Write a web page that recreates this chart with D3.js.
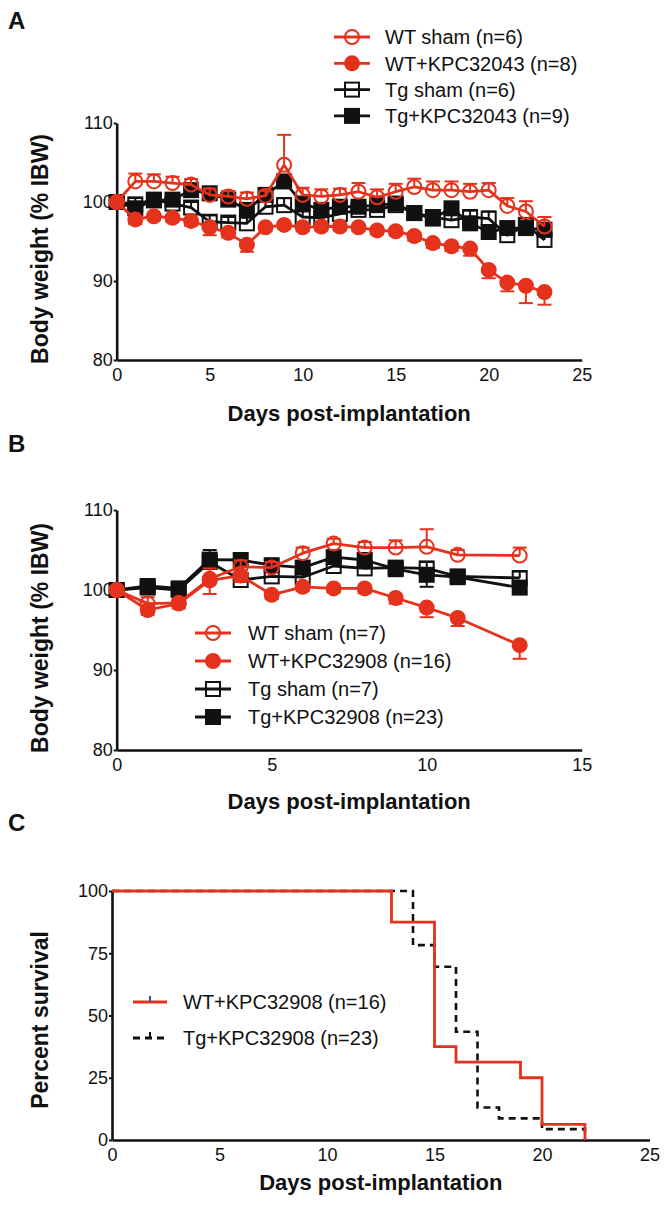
<!DOCTYPE html>
<html><head><meta charset="utf-8">
<script src="https://cdn.jsdelivr.net/npm/d3@7"></script>
<style>
body{margin:0;background:#fff}
svg{display:block}
text{font-family:Arial,"Liberation Sans",Helvetica,sans-serif;fill:#111}
</style>
</head><body>
<svg id="chart" width="666" height="1207"></svg>
<script>
// ---------- DATA ----------
// Panel A
const daysA = [0,1,2,3,4,5,6,7,8,9,10,11,12,13,14,15,16,17,18,19,20,21,22,23];
const wtShamA    = [100,102.6,102.6,102.4,102.2,100.9,100.7,100.4,100.8,104.7,100.9,100.7,100.9,101.3,100.6,101.3,101.9,101.5,101.5,101.3,101.5,99.5,98.8,96.9];
const wtShamAErr = [0,1.0,0.9,0.8,0.7,0.8,0.7,0.8,0.6,3.8,0.9,0.9,0.8,1.1,1.0,1.0,1.05,1.1,1.1,1.0,0.9,1.0,1.3,1.2];
const wtKpcA     = [100,97.8,98.2,98.0,97.6,96.8,96.1,94.6,96.8,97.1,96.8,96.9,96.9,96.8,96.4,96.3,95.7,94.8,94.4,94.1,91.4,89.8,89.4,88.6];
const wtKpcAErr  = [0,0.6,0.5,0.5,0.6,1.0,0.6,0.9,0.5,0.5,0.5,0.5,0.5,0.5,0.5,0.5,0.6,0.6,0.6,0.9,1.05,1.1,2.2,1.6];
const tgShamA    = [100,99.7,100.3,99.8,99.3,97.5,97.4,97.3,99.4,99.6,98.1,98.0,98.5,99.0,99.0,99.6,98.6,98.1,97.7,98.1,97.9,95.8,97.1,95.2];
const tgShamAErr = [0,0.8,0.7,0.8,0.7,0.8,0.7,0.7,0.8,0.9,0.7,0.7,0.8,0.8,0.7,0.7,0.8,0.7,0.8,0.8,0.9,0.8,0.8,0.9];
const tgKpcA     = [100,99.2,100.2,100.3,101.5,101.1,100.3,99.0,100.9,102.6,99.8,99.0,99.4,99.4,99.6,99.8,98.6,97.9,99.2,97.3,96.2,96.7,96.7,96.5];
const tgKpcAErr  = [0,0.6,0.7,0.7,0.6,0.7,0.6,0.8,0.7,0.8,0.8,0.7,0.7,0.7,0.6,0.6,0.7,0.7,0.6,0.8,0.8,0.8,0.7,0.9];
const legendA = ["WT sham (n=6)","WT+KPC32043 (n=8)","Tg sham (n=6)","Tg+KPC32043 (n=9)"];
const xTicksA = [0,5,10,15,20,25];
const yTicksW = [80,90,100,110];

// Panel B
const daysB = [0,1,2,3,4,5,6,7,8,9,10,11,13];
const wtShamB    = [100,98.3,98.4,101.4,102.9,102.8,104.6,105.8,105.3,105.3,105.4,104.4,104.3];
const wtShamBErr = [0,0.8,0.5,1.3,0.8,0.7,0.7,0.6,0.7,0.9,2.2,0.6,1.0];
const wtKpcB     = [100,97.5,98.3,101.2,101.8,99.4,100.4,100.2,100.2,99.0,97.8,96.5,93.1];
const wtKpcBErr  = [0,0.6,0.6,1.7,0.8,0.5,0.5,0.5,0.6,0.7,1.2,1.0,1.7];
const tgShamB    = [100,100.3,100.0,103.5,101.25,101.7,101.6,103.0,102.7,102.8,102.7,101.7,101.5];
const tgShamBErr = [0,0.6,0.6,1.5,0.7,0.7,0.8,0.7,0.8,0.8,0.8,0.7,0.8];
const tgKpcB     = [100,100.5,100.2,103.8,103.75,103.1,102.8,104.1,103.75,102.6,101.9,101.6,100.3];
const tgKpcBErr  = [0,0.6,0.7,1.0,0.8,0.7,0.7,0.7,0.6,0.7,1.5,0.7,0.8];
const legendB = ["WT sham (n=7)","WT+KPC32908 (n=16)","Tg sham (n=7)","Tg+KPC32908 (n=23)"];
const xTicksB = [0,5,10,15];

// Panel C (Kaplan-Meier)
const wtSurvT = [0,13,15,16,19,20,22];
const wtSurv  = [100,87.5,37.5,31.25,25,6.25,0];
const tgSurvT = [0,14,15,16,17,18,20,22];
const tgSurv  = [100,78.26,69.57,43.48,13.04,8.70,4.35,0];
const legendC = ["WT+KPC32908 (n=16)","Tg+KPC32908 (n=23)"];
const xTicksC = [0,5,10,15,20,25];
const yTicksC = [0,25,50,75,100];

// ---------- DRAWING ----------
const RED = "#e5321c", BLK = "#111111";
const svg = d3.select("#chart");

function panelLetter(t, y){
  svg.append("text").attr("x",8).attr("y",y).attr("font-size",24).attr("font-weight","bold").text(t);
}

function axes(x, y, xt, yt, ytitle, ytitleY, xtitleY){
  const gx = svg.append("g").attr("transform",`translate(0,${y.range()[0]})`)
    .call(d3.axisBottom(x).tickValues(xt).tickSize(0).tickPadding(8).tickSizeOuter(0));
  const gy = svg.append("g").attr("transform",`translate(${x.range()[0]},0)`)
    .call(d3.axisLeft(y).tickValues(yt).tickSize(3).tickPadding(1).tickSizeOuter(0));
  [gx,gy].forEach(g=>{
    g.select(".domain").attr("stroke",BLK).attr("stroke-width",2.6);
    g.selectAll(".tick line").attr("stroke",BLK).attr("stroke-width",2);
    g.selectAll(".tick text").attr("font-size",18).attr("fill",BLK).attr("font-family","Arial, 'Liberation Sans', sans-serif");
  });
  svg.append("text").attr("transform",`translate(48,${ytitleY}) rotate(-90)`)
    .attr("text-anchor","middle").attr("font-size",23).attr("font-weight","bold").text(ytitle);
  const xm = (x.range()[0]+x.range()[1])/2;
  svg.append("text").attr("x",xm).attr("y",xtitleY).attr("text-anchor","middle")
    .attr("font-size",22).attr("font-weight","bold").text("Days post-implantation");
}

function marker(g, cx, cy, s){
  if (s.shape==="circle"){
    g.append("circle").attr("cx",cx).attr("cy",cy).attr("r",7)
      .attr("fill",s.filled?s.color:"none").attr("stroke",s.color).attr("stroke-width",2);
  } else {
    g.append("rect").attr("x",cx-7).attr("y",cy-7).attr("width",14).attr("height",14)
      .attr("fill",s.filled?s.color:"none").attr("stroke",s.color).attr("stroke-width",2);
  }
}

function series(x, y, days, s){
  const g = svg.append("g");
  const line = d3.line().x((d,i)=>x(days[i])).y(d=>y(d));
  g.append("path").datum(s.vals).attr("d",line).attr("fill","none")
    .attr("stroke",s.color).attr("stroke-width",2.8).attr("stroke-linejoin","round");
  s.vals.forEach((v,i)=>{
    const e = s.err[i]; if(!e) return;
    const y2 = y(v + s.dir*e), cx = x(days[i]);
    g.append("line").attr("x1",cx).attr("x2",cx).attr("y1",y(v)).attr("y2",y2).attr("stroke",s.color).attr("stroke-width",2);
    g.append("line").attr("x1",cx-7).attr("x2",cx+7).attr("y1",y2).attr("y2",y2).attr("stroke",s.color).attr("stroke-width",2);
  });
  s.vals.forEach((v,i)=>marker(g, x(days[i]), y(v), s));
}

function legend(items, names, x0, tx, y0, dy, fs){
  items.forEach((s,i)=>{
    const yy = y0 + i*dy;
    const g = svg.append("g");
    g.append("line").attr("x1",x0-18).attr("x2",x0+18).attr("y1",yy).attr("y2",yy)
      .attr("stroke",s.color).attr("stroke-width",2.8);
    marker(g, x0, yy, s);
    svg.append("text").attr("x",tx).attr("y",yy).attr("dy","0.36em").attr("font-size",fs).text(names[i]);
  });
}

function weightPanel(days, sets, names, xt, xDom, xRange, yRange, ytY, xtY, leg){
  const x = d3.scaleLinear().domain(xDom).range(xRange);
  const y = d3.scaleLinear().domain([80,110]).range(yRange);
  axes(x, y, xt, yTicksW, "Body weight (% IBW)", ytY, xtY);
  const order = [3,2,1,0];
  order.forEach(k=>series(x,y,days,sets[k]));
  legend(sets, names, leg.x, leg.tx, leg.y, leg.dy, leg.fs);
}

// Panel A
panelLetter("A", 29);
weightPanel(daysA, [
  {vals:wtShamA, err:wtShamAErr, dir:1, color:RED, shape:"circle", filled:false},
  {vals:wtKpcA,  err:wtKpcAErr,  dir:-1, color:RED, shape:"circle", filled:true},
  {vals:tgShamA, err:tgShamAErr, dir:1, color:BLK, shape:"square", filled:false},
  {vals:tgKpcA,  err:tgKpcAErr,  dir:-1, color:BLK, shape:"square", filled:true}
], legendA, xTicksA, [0,25], [116.7,581.7], [360,123], 249, 421,
  {x:352, tx:385, y:37, dy:26.3, fs:20});

// Panel B
panelLetter("B", 452);
weightPanel(daysB, [
  {vals:wtShamB, err:wtShamBErr, dir:1, color:RED, shape:"circle", filled:false},
  {vals:wtKpcB,  err:wtKpcBErr,  dir:-1, color:RED, shape:"circle", filled:true},
  {vals:tgShamB, err:tgShamBErr, dir:1, color:BLK, shape:"square", filled:false},
  {vals:tgKpcB,  err:tgKpcBErr,  dir:-1, color:BLK, shape:"square", filled:true}
], legendB, xTicksB, [0,15], [116.7,581.7], [750,510], 638, 809,
  {x:213, tx:248, y:633, dy:28, fs:20});

// Panel C
panelLetter("C", 831);
{
  const x = d3.scaleLinear().domain([0,25]).range([112,649.5]);
  const y = d3.scaleLinear().domain([0,100]).range([1140,891]);
  axes(x, y, xTicksC, yTicksC, "Percent survival", 1020, 1190);
  const step = d3.line().curve(d3.curveStepAfter);
  svg.append("path").attr("d", step(tgSurvT.map((t,i)=>[x(t), y(tgSurv[i])])))
    .attr("fill","none").attr("stroke",BLK).attr("stroke-width",2.6).attr("stroke-dasharray","7,5");
  svg.append("path").attr("d", step(wtSurvT.map((t,i)=>[x(t), y(wtSurv[i])])))
    .attr("fill","none").attr("stroke",RED).attr("stroke-width",2.8);
  // legend
  const ly = [1002, 1038];
  const lc = [{c:RED, dash:null, tick:"#3a4fa0"},{c:BLK, dash:"7,5", tick:BLK}];
  lc.forEach((s,i)=>{
    svg.append("line").attr("x1",133).attr("x2",167).attr("y1",ly[i]).attr("y2",ly[i])
      .attr("stroke",s.c).attr("stroke-width",2.8).attr("stroke-dasharray",s.dash);
    svg.append("line").attr("x1",150).attr("x2",150).attr("y1",ly[i]-6).attr("y2",ly[i])
      .attr("stroke",s.tick).attr("stroke-width",2);
    svg.append("text").attr("x",183).attr("y",ly[i]).attr("dy","0.36em").attr("font-size",20).text(legendC[i]);
  });
}
</script>
</body></html>
